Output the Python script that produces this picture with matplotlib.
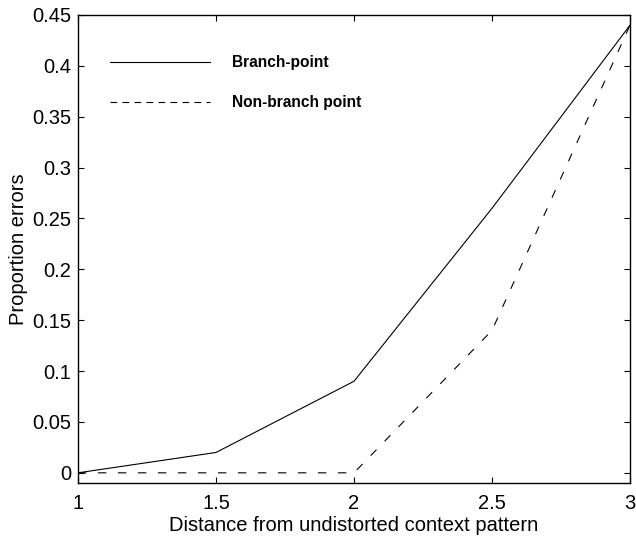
import matplotlib
matplotlib.use("Agg")
import matplotlib.pyplot as plt
from matplotlib.lines import Line2D
from matplotlib.ticker import FuncFormatter

plt.rcParams['font.family'] = ['Liberation Sans', 'DejaVu Sans']

# Distance from the undistorted context pattern
distance = [1.0, 1.5, 2.0, 2.5, 3.0]
# Proportion of errors for each pattern type
branch_point = [0.0, 0.02, 0.09, 0.26, 0.44]
non_branch_point = [0.0, 0.0, 0.0, 0.14, 0.44]

series_labels = ["Branch-point", "Non-branch point"]
x_ticks = [1, 1.5, 2, 2.5, 3]
y_ticks = [0, 0.05, 0.1, 0.15, 0.2, 0.25, 0.3, 0.35, 0.4, 0.45]

fig = plt.figure(figsize=(6.36, 5.39), dpi=100)
ax = fig.add_axes([0.1226, 0.1039, 0.868, 0.8683])

lw = 0.8
ax.plot(distance, branch_point, color="black", lw=lw)
dashed, = ax.plot(distance, non_branch_point, color="black", lw=lw)
dashed.set_dashes([7.5, 10.5])

ax.set_xlim(1, 3)
ax.set_ylim(-0.01, 0.45)
ax.set_xticks(x_ticks)
ax.set_yticks(y_ticks)
fmt = FuncFormatter(lambda v, pos: "%g" % round(v, 4))
ax.xaxis.set_major_formatter(fmt)
ax.yaxis.set_major_formatter(fmt)
ax.tick_params(direction="in", length=4.5, width=0.8, top=True, right=True,
               labelsize=14.5)
ax.tick_params(axis="x", pad=8)
ax.tick_params(axis="y", pad=5)
for sp in ax.spines.values():
    sp.set_linewidth(1.0)

ax.set_xlabel("Distance from undistorted context pattern", fontsize=14.5, labelpad=2)
ax.set_ylabel("Proportion errors", fontsize=14.5, labelpad=3)

handles = [
    Line2D([], [], color="black", lw=lw),
    Line2D([], [], color="black", lw=lw, dashes=[6.0, 4.8]),
]
ax.legend(handles, series_labels, loc="upper left", frameon=False,
          bbox_to_anchor=(-0.0145, 1.0),
          prop={"weight": "bold", "size": 11.2},
          handlelength=6.4, handletextpad=1.4, labelspacing=1.6,
          borderaxespad=2.2)

fig.savefig("out.png", dpi=100)
